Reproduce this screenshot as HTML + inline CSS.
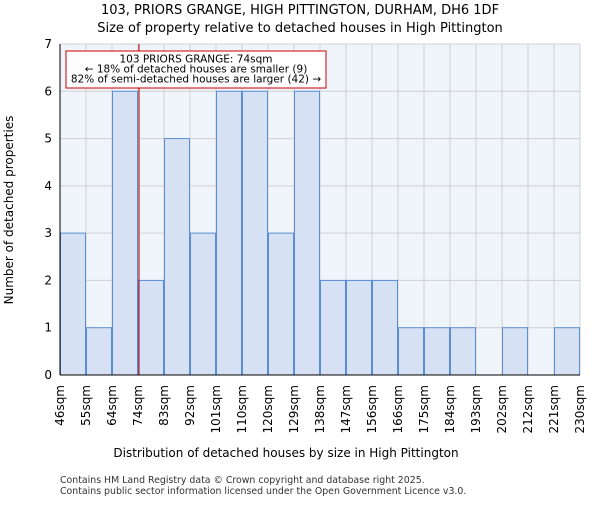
<!DOCTYPE html>
<html><head><meta charset="utf-8"><style>
body{margin:0;background:#fff;}
svg{font-family:"DejaVu Sans","Liberation Sans",sans-serif;}
</style></head><body>
<svg id="chart" width="600" height="500">
<text x="300" y="14" text-anchor="middle" font-size="13">103, PRIORS GRANGE, HIGH PITTINGTON, DURHAM, DH6 1DF</text>
<text x="300" y="32" text-anchor="middle" font-size="13">Size of property relative to detached houses in High Pittington</text>
<rect x="60" y="44" width="520" height="331" fill="#f0f4fb"/>
<g id="grid"></g><g id="bars"></g><g id="axes"></g>
<text x="286" y="457" text-anchor="middle" font-size="12">Distribution of detached houses by size in High Pittington</text>
<text transform="translate(13,210) rotate(-90)" text-anchor="middle" font-size="12">Number of detached properties</text>
<text x="60" y="483" font-size="9.4" fill="#333">Contains HM Land Registry data © Crown copyright and database right 2025.</text>
<text x="60" y="494" font-size="9.4" fill="#333">Contains public sector information licensed under the Open Government Licence v3.0.</text>
</svg>
<script>
const categories=["46sqm","55sqm","64sqm","74sqm","83sqm","92sqm","101sqm","110sqm","120sqm","129sqm","138sqm","147sqm","156sqm","166sqm","175sqm","184sqm","193sqm","202sqm","212sqm","221sqm","230sqm"];
const counts=[3,1,6,2,5,3,6,6,3,6,2,2,2,1,1,1,0,1,0,1];
const yTicks=[0,1,2,3,4,5,6,7];
const markerIndex=3;
const NS="http://www.w3.org/2000/svg";
const X0=60,X1=580,Y0=375,Y1=44,YMAX=7;
const bw=(X1-X0)/counts.length;
const xs=i=>X0+i*bw;
const ys=v=>Y0-(v/YMAX)*(Y0-Y1);
function mk(t,a,p){const e=document.createElementNS(NS,t);for(const k in a)e.setAttribute(k,a[k]);p.appendChild(e);return e;}
const grid=document.getElementById('grid'),bars=document.getElementById('bars'),axes=document.getElementById('axes');
yTicks.forEach(v=>{const l=mk('line',{x1:X0,x2:X1,y1:ys(v),y2:ys(v),stroke:'#d0d0d0','stroke-width':1},grid);


const t=mk('text',{x:X0-8,y:ys(v)+4,'text-anchor':'end','font-size':12},axes);t.textContent=v;

});
categories.forEach((c,i)=>{const l=mk('line',{x1:xs(i),x2:xs(i),y1:Y1,y2:Y0,stroke:'#d0d0d0','stroke-width':1},grid);


const t=mk('text',{transform:`translate(${xs(i)+4},${Y0+10}) rotate(-90)`,'text-anchor':'end','font-size':12},axes);t.textContent=c;

});
counts.forEach((v,i)=>{if(v<=0)return;const r=mk('rect',{x:xs(i)+0.5,y:ys(v),width:bw-1,height:Y0-ys(v),fill:'#d6e2f3',stroke:'#5b8ed6','stroke-width':1},bars);

});
const ax=mk('line',{x1:X0,x2:X0,y1:Y1,y2:Y0,stroke:'#000'},axes);


const bx=mk('line',{x1:X0,x2:X1,y1:Y0,y2:Y0,stroke:'#000'},axes);


const mx=xs(markerIndex)+1;
const m=mk('line',{x1:mx,x2:mx,y1:Y1,y2:Y0,stroke:'#b00000','stroke-width':1},axes);


const g=mk('g',{},axes);


mk('rect',{x:66,y:51,width:260,height:37,fill:'#fff',stroke:'#cc0000','stroke-width':1},g);
["103 PRIORS GRANGE: 74sqm","← 18% of detached houses are smaller (9)","82% of semi-detached houses are larger (42) →"].forEach((s,i)=>{const t=mk('text',{x:196,y:62.5+i*10,'text-anchor':'middle','font-size':10.5},g);t.textContent=s;});
</script>
</body></html>
